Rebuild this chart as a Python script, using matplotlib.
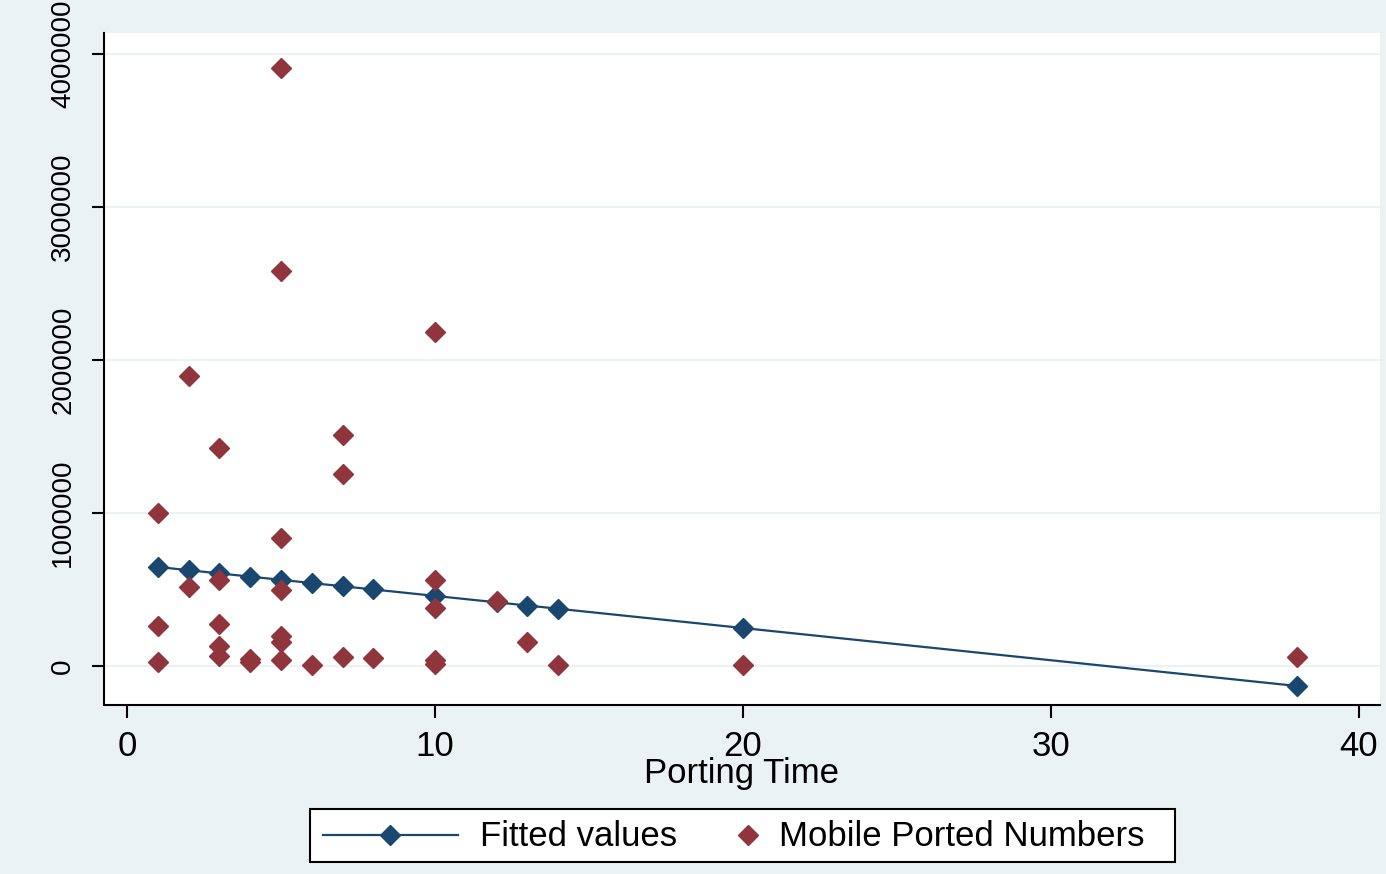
import matplotlib
matplotlib.use("Agg")
import matplotlib.pyplot as plt
from matplotlib.patches import Rectangle
from matplotlib.lines import Line2D

# Observed data (Porting Time, Mobile Ported Numbers)
port_x = [1, 1, 1,
          2, 2,
          3, 3, 3, 3, 3,
          4, 4,
          5, 5, 5, 5, 5, 5, 5,
          6,
          7, 7, 7,
          8,
          10, 10, 10, 10, 10,
          12, 13, 14, 20, 38]
port_y = [1000000, 261000, 26000,
          1895000, 516000,
          1425000, 562000, 275000, 131000, 65000,
          46000, 26000,
          3910000, 2580000, 837000, 497000, 196000, 157000, 39000,
          6000,
          1510000, 1255000, 59000,
          52000,
          2180000, 562000, 379000, 39000, 13000,
          425000, 157000, 6000, 6000, 59000]

# Fitted values
fit_x = [1, 2, 3, 4, 5, 6, 7, 8, 10, 12, 13, 14, 20, 38]
fit_y = [647000, 626000, 605000, 584000, 563000, 542000, 521000, 500000,
         458000, 416000, 395000, 374000, 248000, -131000]

xticks = [0, 10, 20, 30, 40]
yticks = [0, 1000000, 2000000, 3000000, 4000000]
ytick_labels = ["0", "1000000", "2000000", "3000000", "4000000"]
legend_labels = ["Fitted values", "Mobile Ported Numbers"]

plt.rcParams['font.family'] = ['Liberation Sans', 'DejaVu Sans']

W, H = 1386, 874
fig = plt.figure(figsize=(W / 100, H / 100), dpi=100, facecolor='#EAF2F3')
ax = fig.add_axes([104 / W, 1 - 705 / H, (1380 - 104) / W, (705 - 33) / H])
ax.set_facecolor('white')

navy = '#1A476F'
maroon = '#90353B'

ax.plot(fit_x, fit_y, color=navy, lw=1.6, marker='D', ms=10, mfc=navy, mec=navy,
        zorder=3)
ax.plot(port_x, port_y, ls='none', marker='D', ms=10, color=maroon, zorder=4)

ax.set_xlim(-0.75, 40.68)
ax.set_ylim(-255000, 4137000)
ax.set_xticks(xticks)
ax.set_xticklabels([str(t) for t in xticks], fontsize=25)
ax.set_yticks(yticks)
ax.set_yticklabels(ytick_labels, fontsize=20, rotation=90, va='center')
ax.yaxis.grid(True, color='#EAF2F3', lw=1.5)
ax.set_axisbelow(True)
for s in ['top', 'right']:
    ax.spines[s].set_visible(False)
for s in ['left', 'bottom']:
    ax.spines[s].set_linewidth(1.5)
    ax.spines[s].set_color('black')
ax.tick_params(axis='both', direction='out', length=9, width=1.5)
ax.tick_params(axis='x', pad=9)
ax.tick_params(axis='y', pad=11)
ax.set_xlabel('Porting Time', fontsize=25, labelpad=-4)

# Legend drawn in pixel coordinates on an overlay axes
lax = fig.add_axes([0, 0, 1, 1], facecolor='none')
lax.set_xlim(0, W)
lax.set_ylim(H, 0)
lax.axis('off')
lax.add_patch(Rectangle((310, 809), 865, 53, facecolor='white', edgecolor='black', lw=1.5))
lax.add_line(Line2D([323, 458], [835, 835], color=navy, lw=1.6))
lax.add_line(Line2D([390], [835], ls='none', marker='D', ms=10, color=navy))
lax.text(480, 836, legend_labels[0], fontsize=25, va='center', ha='left')
lax.add_line(Line2D([748], [835], ls='none', marker='D', ms=10, color=maroon))
lax.text(779, 836, legend_labels[1], fontsize=25, va='center', ha='left')

fig.savefig('out.png', dpi=100, facecolor=fig.get_facecolor())
